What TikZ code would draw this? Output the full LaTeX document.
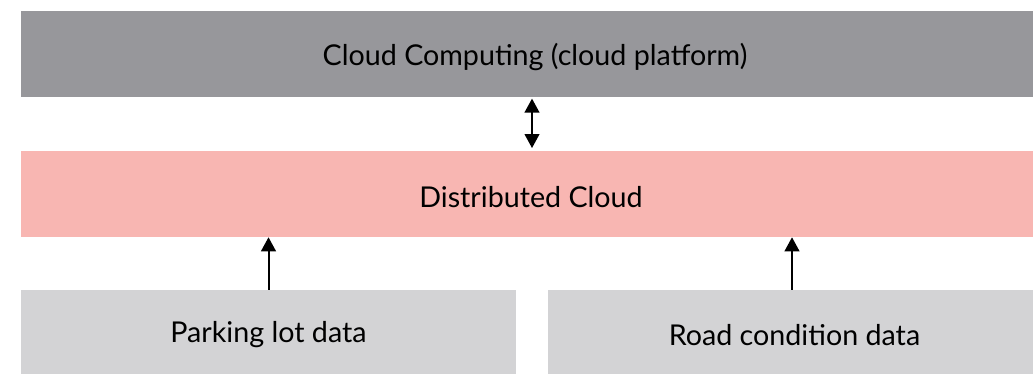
\documentclass[tikz,border=0pt]{standalone}
\usepackage{fontspec}
\setmainfont{Lato}
\usetikzlibrary{arrows.meta}
\definecolor{cloudgray}{HTML}{97979B}
\definecolor{distpink}{HTML}{F8B6B2}
\definecolor{datagray}{HTML}{D3D3D5}
\begin{document}
\begin{tikzpicture}[x=0.75pt,y=-0.75pt,
  layer/.style={inner sep=0pt,minimum height=64.5pt},
  caption/.style={font=\fontsize{21.5}{24}\selectfont,yshift=-2pt},
  link/.style={line width=1.5pt,-{Triangle[length=10.5pt,width=11pt]}}]
\useasboundingbox (0,0) rectangle (1033,374);
\node[layer,fill=cloudgray,minimum width=759pt] (cloud) at (527,54) {};
\node[caption,xshift=6pt] at (cloud.center) (cloudtxt) {Cloud Computing (cloud platform)};
\node[layer,fill=distpink,minimum width=759pt] (dist) at (527,194) {};
\node[caption,xshift=3pt] at (dist.center) (disttxt) {Distributed Cloud};
\node[layer,fill=datagray,minimum width=371.25pt,minimum height=63pt] (park) at (268.5,332) {};
\node[caption] at (park.center) (parktxt) {Parking lot data};
\node[layer,fill=datagray,minimum width=363.75pt,minimum height=63pt] (road) at (790.5,332) {};
\node[caption,xshift=3pt] at (road.center) (roadtxt) {Road condition data};
%\draw (cloud) -- (dist);
\draw[link,{Triangle[length=10.5pt,width=11pt]}-{Triangle[length=10.5pt,width=11pt]},shorten <=1pt,shorten >=2pt] (cloud.south -| 532,0) -- (dist.north -| 532,0);
\draw[link] (park.north) -- (park.north |- dist.south);
\draw[link] (road.north -| 792,0) -- (dist.south -| 792,0);
\end{tikzpicture}
\end{document}
